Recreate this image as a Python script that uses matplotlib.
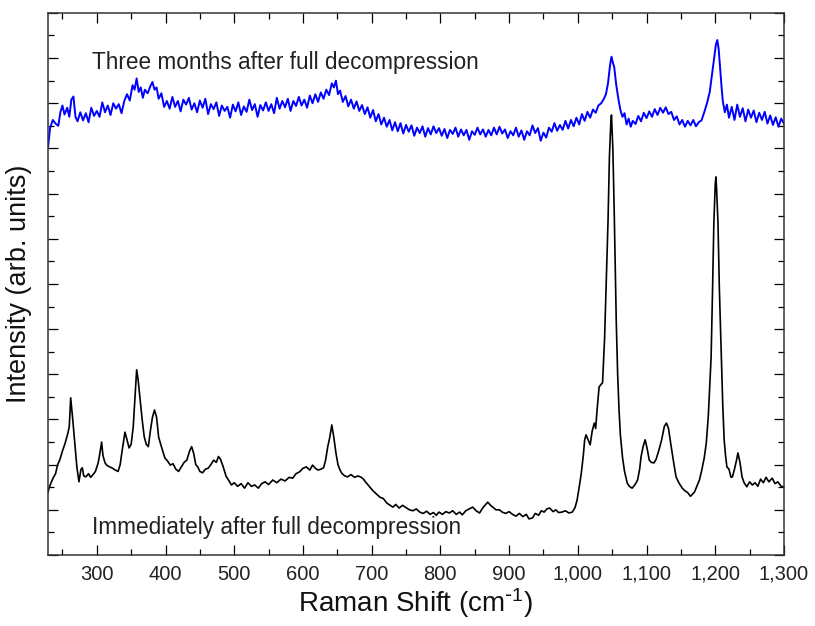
import numpy as np
import matplotlib
matplotlib.use("Agg")
import matplotlib.pyplot as plt
from matplotlib.ticker import MultipleLocator, FuncFormatter

plt.rcParams["font.family"] = ["Liberation Sans", "DejaVu Sans"]
plt.rcParams["mathtext.default"] = "regular"

# Raman spectrum immediately after full decompression (black)
black_shift = [
    229, 231, 234, 237, 240, 243, 246, 250, 254, 258, 260, 262, 265, 268, 271, 274, 277, 279, 281, 284,
    288, 291, 294, 298, 302, 305, 307, 309, 312, 315, 319, 323, 327, 331, 334, 337, 341, 344, 347, 350,
    353, 356, 358, 360, 363, 366, 369, 372, 375, 378, 381, 384, 387, 390, 393, 396, 399, 403, 407, 411,
    415, 419, 423, 427, 431, 435, 438, 441, 444, 447, 450, 454, 458, 462, 466, 470, 474, 477, 480, 484,
    488, 492, 496, 500, 505, 510, 515, 520, 525, 530, 535, 540, 545, 550, 556, 562, 568, 574, 580, 585,
    590, 595, 600, 605, 610, 614, 618, 622, 626, 630, 633, 636, 639, 642, 645, 648, 651, 654, 657, 661,
    665, 670, 675, 680, 685, 688, 692, 697, 702, 707, 712, 717, 722, 727, 731, 735, 740, 745, 750, 755,
    760, 765, 770, 775, 780, 785, 790, 794, 798, 803, 808, 813, 818, 823, 828, 832, 837, 842, 847, 852,
    857, 862, 866, 869, 873, 877, 881, 886, 890, 895, 900, 905, 910, 915, 920, 925, 929, 934, 938, 943,
    947, 951, 955, 959, 964, 968, 972, 977, 982, 987, 992, 996, 999, 1002, 1005, 1008, 1010, 1012, 1015, 1018,
    1021, 1024, 1026, 1028, 1031, 1034, 1036, 1039, 1041, 1044, 1046, 1048, 1049, 1051, 1053, 1056, 1058, 1060, 1062, 1065,
    1068, 1072, 1075, 1079, 1083, 1087, 1090, 1092, 1095, 1098, 1101, 1104, 1107, 1111, 1114, 1118, 1122, 1126, 1129, 1132,
    1136, 1140, 1143, 1147, 1152, 1156, 1160, 1164, 1166, 1170, 1174, 1177, 1180, 1184, 1187, 1190, 1194, 1196, 1198, 1200,
    1201, 1202, 1204, 1206, 1209, 1211, 1213, 1215, 1217, 1220, 1223, 1225, 1228, 1231, 1233, 1236, 1239, 1242, 1246, 1250,
    1254, 1258, 1262, 1266, 1270, 1274, 1278, 1283, 1287, 1291, 1296, 1300,
]
black_intensity = [
    1.39, 1.50, 1.62, 1.72, 1.80, 2.00, 2.10, 2.30, 2.48, 2.70, 2.85, 3.48, 3.00, 2.48, 1.95, 1.62, 1.90, 1.93, 1.75, 1.73,
    1.80, 1.72, 1.77, 1.85, 2.04, 2.30, 2.50, 2.20, 2.04, 1.98, 1.95, 1.92, 1.88, 1.85, 2.00, 2.32, 2.72, 2.55, 2.37, 2.45,
    2.83, 3.60, 4.10, 3.90, 3.45, 3.00, 2.62, 2.45, 2.40, 2.75, 3.05, 3.21, 3.05, 2.61, 2.45, 2.30, 2.15, 2.08, 1.99, 2.02,
    1.90, 1.85, 1.95, 2.05, 2.10, 2.30, 2.40, 2.25, 2.00, 1.95, 1.85, 1.82, 1.90, 1.92, 2.00, 2.10, 2.05, 2.18, 2.12, 1.95,
    1.75, 1.65, 1.55, 1.60, 1.52, 1.58, 1.48, 1.60, 1.52, 1.55, 1.48, 1.58, 1.62, 1.56, 1.66, 1.60, 1.68, 1.64, 1.72, 1.70,
    1.80, 1.84, 1.92, 1.95, 1.88, 1.99, 1.92, 1.88, 1.90, 1.93, 2.10, 2.39, 2.60, 2.88, 2.60, 2.26, 2.00, 1.88, 1.80, 1.75,
    1.73, 1.78, 1.72, 1.75, 1.72, 1.68, 1.60, 1.51, 1.42, 1.35, 1.28, 1.25, 1.15, 1.10, 1.06, 1.12, 1.04, 1.10, 1.05, 1.00,
    0.98, 1.02, 0.95, 0.92, 0.97, 0.90, 0.94, 0.88, 0.95, 0.90, 0.96, 0.93, 0.98, 0.90, 0.95, 0.89, 0.98, 1.02, 1.06, 0.98,
    0.93, 1.05, 1.12, 1.17, 1.10, 1.05, 1.00, 1.00, 0.95, 0.92, 0.96, 0.90, 0.86, 0.92, 0.85, 0.90, 0.80, 0.82, 0.92, 0.88,
    0.98, 0.95, 1.02, 1.04, 0.96, 1.00, 0.94, 0.95, 0.98, 0.93, 0.95, 1.05, 1.22, 1.50, 1.80, 2.20, 2.55, 2.66, 2.55, 2.44,
    2.75, 2.92, 2.80, 3.20, 3.72, 3.78, 3.81, 4.80, 5.87, 7.40, 8.81, 9.55, 9.74, 9.00, 7.60, 5.14, 4.00, 3.21, 2.65, 2.17,
    1.85, 1.59, 1.52, 1.48, 1.55, 1.66, 1.90, 2.17, 2.40, 2.55, 2.35, 2.10, 2.05, 2.04, 2.12, 2.32, 2.55, 2.85, 2.92, 2.80,
    2.39, 2.00, 1.73, 1.60, 1.48, 1.42, 1.38, 1.30, 1.33, 1.40, 1.55, 1.66, 1.85, 2.15, 2.48, 3.10, 4.38, 5.80, 7.35, 8.20,
    8.37, 8.10, 7.35, 5.90, 4.38, 3.30, 2.55, 2.20, 1.95, 1.90, 1.72, 1.73, 1.90, 2.10, 2.26, 2.05, 1.73, 1.60, 1.51, 1.62,
    1.55, 1.60, 1.52, 1.68, 1.60, 1.72, 1.62, 1.70, 1.58, 1.62, 1.52, 1.51,
]

# Raman spectrum three months after full decompression (blue)
blue_shift = [
    229, 232, 236, 240, 244, 247, 250, 253, 257, 260, 263, 266, 269, 272, 276, 280, 284, 288, 292, 296,
    300, 304, 308, 312, 316, 320, 324, 328, 332, 336, 340, 344, 348, 352, 355, 358, 361, 364, 367, 370,
    374, 378, 381, 384, 387, 390, 394, 398, 402, 406, 410, 414, 418, 422, 426, 430, 434, 438, 442, 446,
    450, 454, 458, 462, 466, 470, 474, 478, 482, 486, 490, 494, 498, 502, 506, 510, 514, 518, 522, 526,
    530, 534, 538, 542, 546, 550, 554, 558, 562, 566, 570, 574, 578, 582, 586, 590, 594, 598, 602, 606,
    610, 614, 618, 622, 626, 630, 634, 638, 642, 645, 648, 651, 654, 658, 662, 666, 670, 674, 678, 682,
    686, 690, 694, 698, 702, 706, 710, 714, 718, 722, 726, 730, 734, 738, 742, 746, 750, 754, 758, 762,
    766, 770, 774, 778, 782, 786, 790, 794, 798, 802, 806, 810, 814, 818, 822, 826, 830, 834, 838, 842,
    846, 850, 854, 858, 862, 866, 870, 874, 878, 882, 886, 890, 894, 898, 902, 906, 910, 914, 918, 922,
    926, 930, 934, 938, 942, 946, 950, 954, 958, 962, 966, 970, 974, 978, 982, 986, 990, 994, 998, 1002,
    1006, 1010, 1014, 1018, 1022, 1026, 1030, 1034, 1038, 1041, 1044, 1047, 1049, 1051, 1053, 1056, 1059, 1062, 1065, 1068,
    1071, 1074, 1077, 1080, 1084, 1088, 1092, 1096, 1100, 1104, 1108, 1112, 1116, 1120, 1124, 1128, 1132, 1136, 1140, 1144,
    1148, 1152, 1156, 1160, 1164, 1168, 1172, 1176, 1180, 1184, 1188, 1192, 1195, 1198, 1201, 1203, 1205, 1207, 1209, 1211,
    1214, 1217, 1220, 1224, 1228, 1232, 1236, 1240, 1244, 1248, 1252, 1256, 1260, 1264, 1268, 1272, 1276, 1280, 1284, 1288,
    1292, 1296, 1300,
]
blue_intensity = [
    9.01, 9.45, 9.63, 9.55, 9.50, 9.80, 9.95, 9.75, 9.90, 9.70, 10.08, 10.15, 9.70, 9.60, 9.80, 9.62, 9.78, 9.58, 9.90, 9.72,
    9.83, 9.70, 10.02, 9.80, 9.95, 9.74, 10.00, 9.88, 9.98, 9.78, 10.05, 10.20, 10.06, 10.40, 10.30, 10.55, 10.25, 10.35, 10.12, 10.30,
    10.22, 10.38, 10.47, 10.30, 10.35, 10.10, 10.22, 9.92, 10.05, 9.88, 10.14, 9.92, 10.05, 9.82, 10.08, 9.97, 10.12, 9.86, 10.00, 9.80,
    10.06, 9.90, 10.10, 9.76, 9.98, 9.87, 10.02, 9.72, 9.95, 9.83, 9.92, 9.68, 9.97, 9.82, 10.02, 9.74, 9.93, 9.81, 10.08, 9.85,
    9.98, 9.70, 9.96, 9.84, 10.02, 9.83, 9.98, 9.78, 10.12, 9.88, 10.05, 9.91, 10.10, 9.83, 10.05, 9.94, 10.14, 9.95, 10.08, 9.90,
    10.17, 10.00, 10.20, 10.03, 10.24, 10.10, 10.30, 10.18, 10.44, 10.35, 10.50, 10.20, 10.28, 10.03, 10.16, 9.93, 10.08, 9.88, 10.04, 9.83,
    9.96, 9.76, 9.91, 9.68, 9.85, 9.60, 9.76, 9.53, 9.68, 9.48, 9.63, 9.40, 9.58, 9.38, 9.56, 9.33, 9.52, 9.37, 9.51, 9.28,
    9.46, 9.34, 9.49, 9.26, 9.45, 9.31, 9.49, 9.34, 9.45, 9.28, 9.43, 9.23, 9.41, 9.32, 9.46, 9.26, 9.42, 9.29, 9.41, 9.19,
    9.38, 9.30, 9.46, 9.31, 9.42, 9.26, 9.41, 9.29, 9.46, 9.31, 9.48, 9.33, 9.42, 9.23, 9.38, 9.29, 9.46, 9.26, 9.40, 9.19,
    9.38, 9.29, 9.51, 9.34, 9.45, 9.17, 9.35, 9.24, 9.46, 9.37, 9.56, 9.39, 9.52, 9.41, 9.61, 9.44, 9.63, 9.49, 9.68, 9.53,
    9.76, 9.61, 9.81, 9.68, 9.86, 9.79, 9.95, 10.00, 10.10, 10.20, 10.45, 10.85, 11.03, 10.90, 10.80, 10.40, 10.10, 9.85, 9.70, 9.78,
    9.53, 9.66, 9.48, 9.61, 9.54, 9.72, 9.60, 9.79, 9.67, 9.82, 9.70, 9.87, 9.74, 9.90, 9.79, 9.91, 9.76, 9.81, 9.63, 9.71,
    9.53, 9.63, 9.48, 9.61, 9.51, 9.63, 9.49, 9.58, 9.62, 9.80, 10.00, 10.25, 10.60, 10.95, 11.30, 11.40, 11.20, 10.80, 10.40, 10.05,
    9.80, 9.97, 9.68, 9.92, 9.63, 9.97, 9.70, 9.89, 9.60, 9.86, 9.68, 9.84, 9.58, 9.79, 9.63, 9.81, 9.55, 9.73, 9.52, 9.69,
    9.48, 9.66, 9.55,
]

label_top = "Three months after full decompression"
label_bottom = "Immediately after full decompression"

fig = plt.figure(figsize=(8.15, 6.26), dpi=100)
ax = fig.add_axes([0.0589, 0.1134, 0.903, 0.866])

ax.plot(black_shift, black_intensity, color="black", lw=1.2)
ax.plot(blue_shift, blue_intensity, color="#0000ff", lw=1.4)

ax.set_xlim(229, 1300)
ax.set_ylim(0, 12)

ax.xaxis.set_major_locator(MultipleLocator(100))
ax.xaxis.set_minor_locator(MultipleLocator(50))
ax.yaxis.set_major_locator(MultipleLocator(1))
ax.yaxis.set_minor_locator(MultipleLocator(0.5))
ax.xaxis.set_major_formatter(FuncFormatter(lambda v, p: f"{int(v):,}"))

ax.tick_params(which="both", direction="in", top=True, right=True, width=0.9)
ax.tick_params(which="major", length=7.5)
ax.tick_params(which="minor", length=4)
ax.tick_params(axis="x", which="major", labelsize=14.5, pad=7, labelcolor="#222222")
ax.tick_params(axis="y", labelleft=False)
for sp in ax.spines.values():
    sp.set_linewidth(1.1)
    sp.set_color("#333333")

ax.set_xlabel(r"Raman Shift (cm$^{\text{-}1}$)", fontsize=20, color="#111111", labelpad=2)
ax.set_ylabel("Intensity (arb. units)", fontsize=19.5, color="#111111", labelpad=8)

ax.text(293, 10.9, label_top, fontsize=16.3, color="#222222", va="center", ha="left")
ax.text(293, 0.62, label_bottom, fontsize=16.3, color="#222222", va="center", ha="left")

fig.savefig("out.png", dpi=100)
